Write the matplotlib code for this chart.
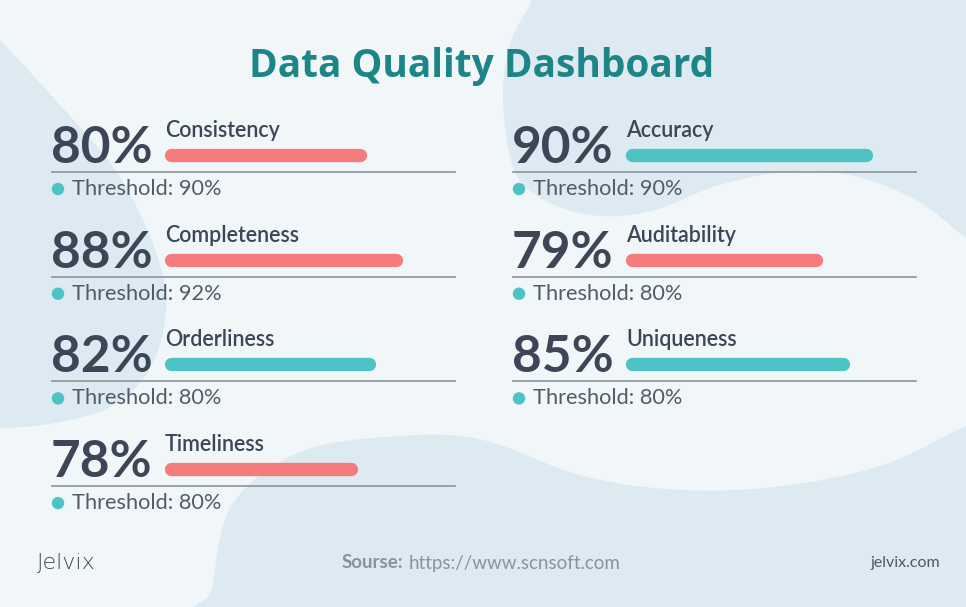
import numpy as np
import matplotlib.pyplot as plt
from matplotlib.patches import Polygon

# Data
metrics = ['Consistency', 'Completeness', 'Orderliness', 'Timeliness',
           'Accuracy', 'Auditability', 'Uniqueness']
scores = [80, 88, 82, 78, 90, 79, 85]
thresholds = [90, 92, 80, 80, 90, 80, 80]

# Style
BG = '#f1f6f9'
BLOB = '#deeaf1'
DARK = '#3d4657'
GREY = '#525b68'
RED = '#f47c7c'
TEAL = '#4ec3c6'
TITLE = '#1d8587'
FONT = 'Lato'

W, H = 966, 607
fig = plt.figure(figsize=(W / 100, H / 100), dpi=100)
fig.patch.set_facecolor(BG)
ax = fig.add_axes([0, 0, 1, 1])
ax.set_xlim(0, W)
ax.set_ylim(H, 0)
ax.axis('off')


def smooth(pts, n=20):
    # closed catmull-rom curve through the outline points
    pts = np.asarray(pts, float)
    out = []
    m = len(pts)
    for i in range(m):
        p0, p1, p2, p3 = pts[i - 1], pts[i], pts[(i + 1) % m], pts[(i + 2) % m]
        for t in np.linspace(0, 1, n, endpoint=False):
            t2, t3 = t * t, t * t * t
            out.append(0.5 * (2 * p1 + (-p0 + p2) * t + (2 * p0 - 5 * p1 + 4 * p2 - p3) * t2
                              + (-p0 + 3 * p1 - 3 * p2 + p3) * t3))
    return np.array(out)


# background blobs
left_blob = [(-40, 0), (0, 40), (60, 105), (112, 165), (142, 218), (162, 272),
             (165, 322), (148, 372), (112, 406), (60, 422), (0, 428), (-40, 420)]
top_blob = [(560, -40), (530, 5), (510, 45), (503, 100), (515, 172), (550, 203),
            (600, 216), (655, 210), (716, 186), (785, 172), (850, 175), (916, 200),
            (966, 238), (1010, 270), (1010, -40)]
bottom_blob = [(205, 650), (212, 590), (232, 505), (300, 452), (400, 436), (483, 440),
               (583, 476), (683, 490), (783, 486), (883, 465), (966, 426), (1010, 410),
               (1010, 650)]
for b in (left_blob, top_blob, bottom_blob):
    ax.add_patch(Polygon(smooth(b), closed=True, facecolor=BLOB, edgecolor='none', zorder=0))

# title
ax.text(482, 66, 'Data Quality Dashboard', ha='center', va='center', color=TITLE,
        fontsize=28, fontweight='bold', family='Open Sans')

# panels
col_x = [52, 513]
row_y0, row_step = 172, 104.7
bar_x0 = 164 - 52
bar_w = 293
vmin, vmax = 35.4, 100
bar_px = 13.3

for i, (name, s, t) in enumerate(zip(metrics, scores, thresholds)):
    c = 0 if i < 4 else 1
    r = i if i < 4 else i - 4
    x = col_x[c]
    y = row_y0 + r * row_step

    ax.text(x - 1, y - 9, f'{s}%', ha='left', va='baseline', color=DARK,
            fontsize=37, fontweight='bold', family=FONT)
    ax.text(x + bar_x0 + 1, y - 35, name, ha='left', va='baseline', color=DARK,
            fontsize=15.5, fontweight='semibold', family=FONT)
    ax.plot([x, x + 403], [y, y], color='#8d9499', lw=1.2, zorder=2)
    ax.scatter([x + 6], [y + 17], s=80, color=TEAL, edgecolors='none', zorder=3)
    ax.text(x + 20, y + 17, f'Threshold: {t}%', ha='left', va='center', color=GREY,
            fontsize=15.7, family=FONT)

    # bar in its own axes so the value goes through a real scale
    bax = fig.add_axes([(x + bar_x0) / W, 1 - (y - 17 + bar_px) / H, bar_w / W, 2 * bar_px / H])
    bax.set_xlim(vmin, vmax)
    bax.set_ylim(-1, 1)
    bax.axis('off')
    pad = (bar_px / 2) * (vmax - vmin) / bar_w
    bax.plot([vmin + pad, s - pad], [0, 0], color=RED if s < t else TEAL,
             lw=bar_px * 0.72, solid_capstyle='round')

# footer
ax.text(37, 563, 'Jelvix', ha='left', va='center', color='#3f4854', fontsize=16,
        fontweight='light', family='DejaVu Sans')
src = ax.text(342, 563, 'Sourse:', ha='left', va='center', color='#8c9297', fontsize=13.5,
              fontweight='bold', family=FONT)
fig.canvas.draw()
bb = src.get_window_extent()
inv = ax.transData.inverted()
x_end = inv.transform((bb.x1, bb.y0))[0]
ax.text(x_end + 5, 563, 'https://www.scnsoft.com', ha='left', va='center', color='#8c9297',
        fontsize=13.5, family=FONT)
ax.text(940, 563, 'jelvix.com', ha='right', va='center', color='#4f5964', fontsize=11.5,
        family=FONT)

fig.savefig('out.png', dpi=100, facecolor=BG)
